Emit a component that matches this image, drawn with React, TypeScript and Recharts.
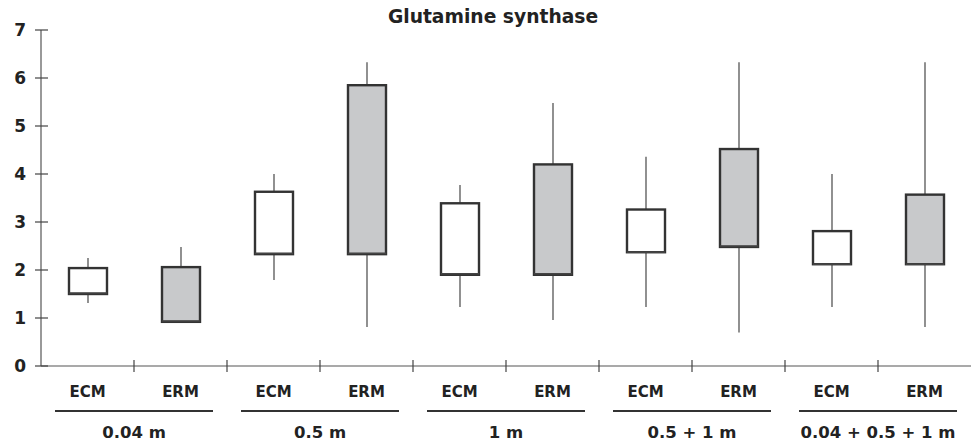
import React from 'react';
import { ComposedChart, Bar, XAxis, YAxis } from 'recharts';

const categories = ['ECM', 'ERM', 'ECM', 'ERM', 'ECM', 'ERM', 'ECM', 'ERM', 'ECM', 'ERM'];
const groups = ['0.04 m', '0.5 m', '1 m', '0.5 + 1 m', '0.04 + 0.5 + 1 m'];
const minValues = [1.31, 0.92, 1.79, 0.81, 1.23, 0.96, 1.23, 0.7, 1.23, 0.81];
const q1Values = [1.5, 0.92, 2.33, 2.33, 1.9, 1.9, 2.37, 2.48, 2.12, 2.12];
const medianValues = [1.52, 0.94, 2.35, 2.35, 1.92, 1.92, 2.37, 2.5, 2.12, 2.12];
const q3Values = [2.04, 2.06, 3.63, 5.85, 3.39, 4.2, 3.26, 4.52, 2.81, 3.57];
const maxValues = [2.25, 2.48, 4.0, 6.33, 3.77, 5.48, 4.36, 6.33, 4.0, 6.33];
const yTicks = [0, 1, 2, 3, 4, 5, 6, 7];

const data = categories.map((name, i) => ({
  id: `${name}-${i}`,
  name,
  min: minValues[i],
  q1: q1Values[i],
  median: medianValues[i],
  q3: q3Values[i],
  max: maxValues[i],
}));

const FONT = '"DejaVu Sans", Verdana, sans-serif';
const INK = '#222';

function BoxShape(props: any) {
  const { x, y, width, height, payload } = props;
  if (x == null || y == null || !payload) return null;
  const top = Math.min(y, y + height);
  const h = Math.abs(height);
  const span = payload.max - payload.min;
  const toPx = (v: number) => top + (span === 0 ? 0 : (h * (payload.max - v)) / span);
  const cx = x + width / 2;
  const fill = payload.name === 'ERM' ? '#c8c9cb' : '#ffffff';
  const boxTop = toPx(payload.q3);
  const boxBottom = toPx(payload.q1);
  return (
    <g>
      <line x1={cx} x2={cx} y1={toPx(payload.max)} y2={toPx(payload.min)} stroke="#555" strokeWidth={1.3} />
      <rect x={x} y={boxTop} width={width} height={boxBottom - boxTop} fill={fill} stroke="#333" strokeWidth={2.4} />
      <line x1={x} x2={x + width} y1={toPx(payload.median)} y2={toPx(payload.median)} stroke="#444" strokeWidth={1.5} />
    </g>
  );
}

function YTick(props: any) {
  const { x, y, payload } = props;
  return (
    <g>
      <line x1={x - 6} x2={x + 7} y1={y} y2={y} stroke="#444" strokeWidth={1.2} />
      <text x={x - 15} y={y + 6} textAnchor="end" fontFamily={FONT} fontWeight="bold" fontSize={17} fill={INK}>
        {payload.value}
      </text>
    </g>
  );
}

function XTick(props: any) {
  const { x, y, payload, index } = props;
  const half = payload && payload.offset > 0 ? payload.offset : 46.5;
  const i = typeof index === 'number' ? index : payload.index;
  const isFirst = i % 2 === 0;
  const groupCenter = x + half;
  return (
    <g>
      {i < categories.length - 1 && (
        <line x1={x + half} x2={x + half} y1={y - 6} y2={y + 6} stroke="#444" strokeWidth={1.2} />
      )}
      <text x={x} y={y + 31} textAnchor="middle" fontFamily={FONT} fontWeight="bold" fontSize={15} fill={INK}>
        {categories[i]}
      </text>
      {isFirst && (
        <g>
          <line x1={groupCenter - 79} x2={groupCenter + 79} y1={y + 45} y2={y + 45} stroke="#333" strokeWidth={2} />
          <text x={groupCenter} y={y + 72} textAnchor="middle" fontFamily={FONT} fontWeight="bold" fontSize={16.5} fill={INK}>
            {groups[i / 2]}
          </text>
        </g>
      )}
    </g>
  );
}

export default function App() {
  return (
    <div style={{ position: 'relative', width: 971, height: 446, background: '#fff' }}>
      <style>{'body{margin:0;}'}</style>
      <div
        style={{
          position: 'absolute',
          top: 6,
          left: 0,
          width: 986,
          textAlign: 'center',
          fontFamily: FONT,
          fontWeight: 'bold',
          fontSize: 18.7,
          color: INK,
          lineHeight: '22px',
        }}
      >
        Glutamine synthase
      </div>
      <ComposedChart width={971} height={446} data={data} margin={{ top: 30, right: 0, bottom: 0, left: 0 }}>
        <XAxis
          dataKey="id"
          interval={0}
          height={80}
          tickSize={0}
          tickMargin={0}
          tickLine={false}
          axisLine={{ stroke: '#555', strokeWidth: 1.2 }}
          tick={<XTick />}
        />
        <YAxis
          domain={[0, 7]}
          ticks={yTicks}
          width={41}
          tickSize={0}
          tickMargin={0}
          tickLine={false}
          axisLine={{ stroke: '#555', strokeWidth: 1.2 }}
          tick={<YTick />}
        />
        <Bar dataKey={(d: any) => [d.min, d.max]} barSize={38} shape={<BoxShape />} isAnimationActive={false} />
      </ComposedChart>
    </div>
  );
}
